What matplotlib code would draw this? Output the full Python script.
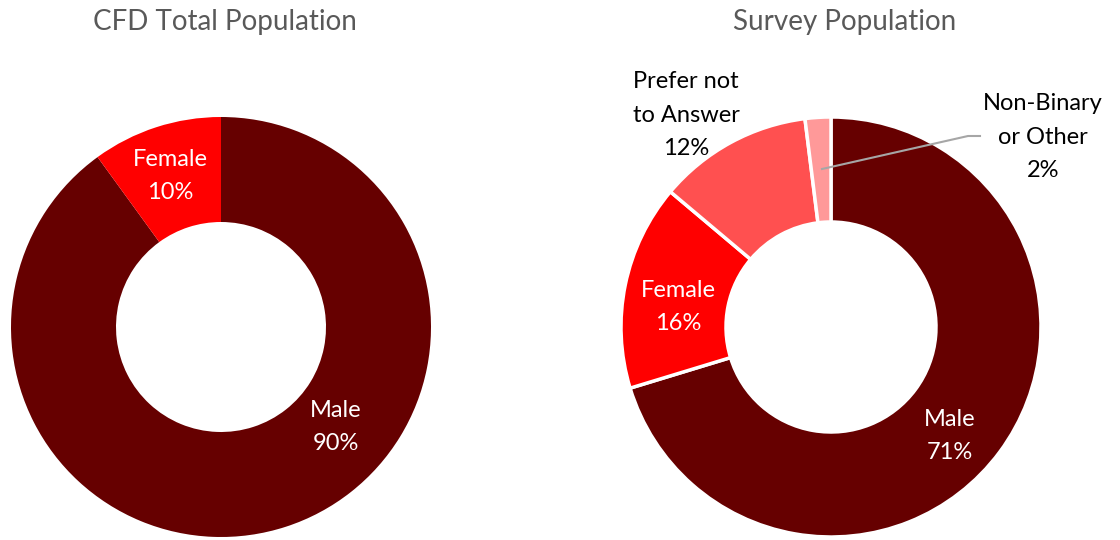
import matplotlib
matplotlib.use("Agg")
import matplotlib.pyplot as plt

plt.rcParams['font.family'] = ['Lato', 'DejaVu Sans']

# Data
left_title = "CFD Total Population"
left_labels = ["Male", "Female"]
left_values = [90, 10]

right_title = "Survey Population"
right_labels = ["Male", "Female", "Prefer not\nto Answer", "Non-Binary\nor Other"]
right_values = [71, 16, 12, 2]

colors = ["#660000", "#FF0000", "#FF5050", "#FF9999"]

W, H = 1120, 540
fig = plt.figure(figsize=(W / 100, H / 100), dpi=100)

R = 210


def make_ax(cx, cy):
    return fig.add_axes([(cx - R) / W, (H - cy - R) / H, 2 * R / W, 2 * R / H])


def to_data(px, py, cx, cy):
    return (px - cx) / R, (cy - py) / R


# Left donut
cxL, cyL = 221, 327
axL = make_ax(cxL, cyL)
axL.pie(left_values, colors=colors[:2], startangle=90, counterclock=False,
        radius=1, wedgeprops=dict(width=0.5, linewidth=0))
axL.set_xlim(-1, 1); axL.set_ylim(-1, 1); axL.set_aspect('equal'); axL.axis('off')

lab_fs = 17
lsp = 1.72
def pct(v):
    return f"{v}%"

x, y = to_data(170, 176, cxL, cyL)
axL.text(x, y, f"{left_labels[1]}\n{pct(left_values[1])}", ha='center', va='center',
         color='white', fontsize=lab_fs, linespacing=lsp)
x, y = to_data(336, 427, cxL, cyL)
axL.text(x, y, f"{left_labels[0]}\n{pct(left_values[0])}", ha='center', va='center',
         color='white', fontsize=lab_fs, linespacing=lsp)

# Right donut
cxR, cyR = 831, 327
axR = make_ax(cxR, cyR)
axR.pie(right_values, colors=colors, startangle=90, counterclock=False,
        radius=1, wedgeprops=dict(width=0.5, linewidth=2.5, edgecolor='white'))
axR.set_xlim(-1, 1); axR.set_ylim(-1, 1); axR.set_aspect('equal'); axR.axis('off')

pos_R = [(950, 436), (678, 307), (686, 115), (1043, 137)]
txt_colors = ['white', 'white', 'black', 'black']
for lab, v, (px, py), tc in zip(right_labels, right_values, pos_R, txt_colors):
    x, y = to_data(px, py, cxR, cyR)
    axR.text(x, y, f"{lab}\n{pct(v)}", ha='center', va='center', color=tc,
             fontsize=lab_fs, linespacing=lsp, clip_on=False)

# leader line for Non-Binary
lx = [to_data(p[0], p[1], cxR, cyR) for p in [(822, 169), (968, 136), (980, 136)]]
axR.plot([p[0] for p in lx], [p[1] for p in lx], color='#A6A6A6', lw=1.5,
         clip_on=False, zorder=5)

# Titles
fig.text(225 / W, 1 - 22 / H, left_title, ha='center', va='center',
         fontsize=20, color='#595959')
fig.text(845 / W, 1 - 22 / H, right_title, ha='center', va='center',
         fontsize=20, color='#595959')

fig.savefig("out.png", dpi=100, facecolor='white')
